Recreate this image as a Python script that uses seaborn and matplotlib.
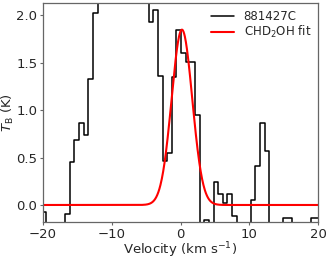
import numpy as np
import pandas as pd
import matplotlib
matplotlib.use('Agg')
import matplotlib.pyplot as plt
import seaborn as sns

sns.set_style('ticks')

# channel velocities (km/s) and brightness temperature (K) of the spectrum
velocity = [-20.51, -19.84, -19.16, -18.49, -17.81, -17.14, -16.46, -15.79,
            -15.11, -14.44, -13.76, -13.09, -12.41, -11.74, -11.06, -10.39,
            -9.71, -9.04, -8.36, -7.69, -7.01, -6.34, -5.66, -4.99, -4.31,
            -3.64, -2.96, -2.29, -1.61, -0.94, -0.26, 0.41, 1.09, 1.76, 2.44,
            3.11, 3.79, 4.46, 5.14, 5.81, 6.49, 7.16, 7.84, 8.51, 9.19, 9.86,
            10.54, 11.21, 11.89, 12.56, 13.24, 13.91, 14.59, 15.26, 15.94,
            16.61, 17.29, 17.96, 18.64, 19.31, 19.99, 20.66]
tb = [-0.07, -0.07, -0.24, -0.31, -0.22, -0.27, -0.10, 0.45,
      0.69, 0.87, 0.74, 1.33, 2.03, 2.45, 2.80, 3.10,
      3.35, 3.20, 2.95, 2.70, 2.55, 2.65, 2.40, 2.25, 1.93,
      2.06, 1.36, 0.46, 0.55, 1.35, 1.85, 1.60, 1.51, 1.51, 0.95,
      -0.19, -0.16, -0.19, 0.24, 0.12, 0.02, 0.12, -0.12, -0.26, -0.30, -0.23,
      0.05, 0.41, 0.87, 0.57, -0.25, -0.32, -0.24, -0.14, -0.14,
      -0.28, -0.22, -0.30, -0.25, -0.14, -0.14, -0.14]

# gaussian fit parameters for CHD2OH
fit_amp = 1.85
fit_v0 = 0.2
fit_sigma = 1.5

spec = pd.DataFrame({'v': velocity, 'tb': tb})
vfit = np.linspace(-20, 20, 800)
fit = pd.DataFrame({'v': vfit,
                    'tb': fit_amp * np.exp(-(vfit - fit_v0)**2 / (2 * fit_sigma**2))})

fig, ax = plt.subplots(figsize=(3.31, 2.60), dpi=100)
fig.subplots_adjust(left=0.13, right=0.961, top=0.988, bottom=0.146)

sns.lineplot(data=spec, x='v', y='tb', ax=ax, color='black', lw=1.1,
             drawstyle='steps-mid', estimator=None, sort=False, label='881427C')
sns.lineplot(data=fit, x='v', y='tb', ax=ax, color='red', lw=1.5,
             estimator=None, sort=False, label='CHD$_2$OH fit')

ax.set_xlim(-20, 20)
ax.set_ylim(-0.18, 2.13)
ax.set_xticks([-20, -10, 0, 10, 20])
ax.set_yticks([0.0, 0.5, 1.0, 1.5, 2.0])
ax.tick_params(labelsize=9.5, length=2.5, width=0.8, color='0.4', pad=1.5)
for s in ax.spines.values():
    s.set_color('0.4')
    s.set_linewidth(0.9)
ax.set_xlabel('Velocity (km s$^{-1}$)', fontsize=9.5, labelpad=0)
ax.set_ylabel(r'$T_{\rm B}$ (K)', fontsize=9.5, labelpad=0)
ax.legend(loc='upper right', frameon=False, fontsize=8.5, handlelength=2.0,
          borderaxespad=0.2, labelspacing=0.05, handletextpad=0.8)

plt.savefig('out.png', dpi=100)
